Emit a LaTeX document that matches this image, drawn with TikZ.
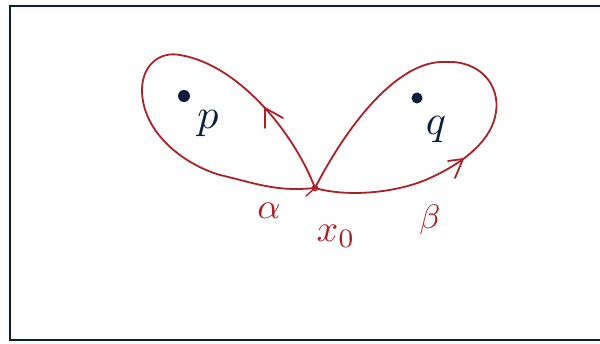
\documentclass[tikz,border=0pt]{standalone}
\usetikzlibrary{calc}
\definecolor{loopred}{RGB}{168,34,40}
\definecolor{navy}{RGB}{12,30,62}
\tikzset{
  looppath/.style={draw=loopred, line width=1.8pt, line cap=round, line join=round},
  tiphead/.style={draw=loopred, line width=1.8pt, line cap=round, line join=round},
  redlabel/.style={text=loopred, inner sep=0pt},
  navylabel/.style={text=navy, inner sep=0pt},
  puncture/.style={fill=navy, draw=none}
}
\newcommand\bigsym[2]{\scalebox{#1}{#2}}
\begin{document}
\begin{tikzpicture}[x=1pt,y=-1pt]
\useasboundingbox (0,0) rectangle (600,343);
\draw[navy, line width=2.2pt] (10,6) rectangle (620,340);

\coordinate (x0) at (315,188);

% alpha loop (left)
\draw[looppath] (x0) .. controls (295,135) and (240,65) .. (180,55)
  .. controls (160,51) and (142,65) .. (142,90)
  .. controls (142,130) and (180,163) .. (220,175)
  .. controls (255,183) and (275,192) .. (x0);
% beta loop (right)
\draw[looppath] (x0) .. controls (350,120) and (400,60) .. (445,62)
  .. controls (480,60) and (500,85) .. (496,112)
  .. controls (492,140) and (465,162) .. (430,178)
  .. controls (400,192) and (350,198) .. (x0);

% arrowheads
\coordinate (ta) at (265,108);
\coordinate (tb) at (463,159);
\draw[tiphead] (265,128) -- (ta) -- (283,118);
\draw[tiphead] (448,161) -- (tb) -- (455,178);

% base point mark
\draw[loopred, line width=1.6pt] (x0) circle (2.5pt);
\draw[tiphead, line width=1.4pt] (306,196) -- (x0);

% punctures
\node[puncture, circle, minimum size=12pt, inner sep=0pt] (pdot) at (184,96) {};
\node[puncture, circle, minimum size=11pt, inner sep=0pt] (qdot) at (417,98) {};

% labels
\node[navylabel] (plab) at (208,124) {\bigsym{4.2}{$p$}};
\node[navylabel] (qlab) at (436,130) {\bigsym{4.2}{$q$}};
\node[redlabel] (alab) at (269,211) {\bigsym{3.6}{$\alpha$}};
\node[redlabel] (xlab) at (336,236) {\bigsym{3.8}{$x_0$}};
\node[redlabel] (blab) at (430,220) {\bigsym{3.4}{$\beta$}};
\end{tikzpicture}
\end{document}
